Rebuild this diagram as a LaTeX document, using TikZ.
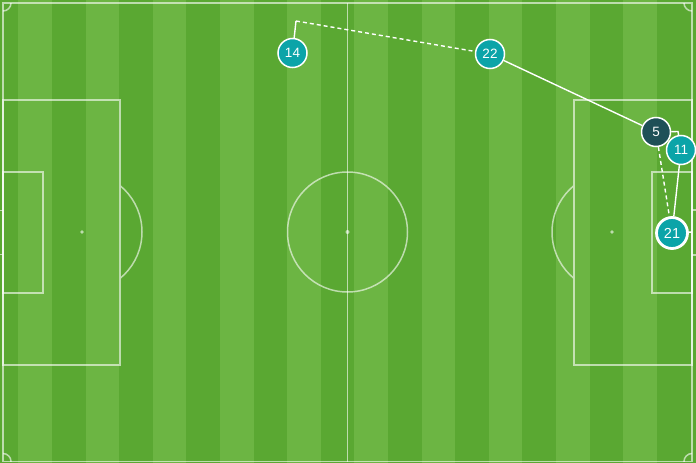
\documentclass[tikz,border=0pt]{standalone}
\usepackage{fontspec}
\setmainfont{Liberation Sans}
\pgfdeclarelayer{bg}
\pgfdeclarelayer{mid}
\pgfsetlayers{bg,mid,main}
\definecolor{grassdark}{HTML}{5AA832}
\definecolor{grasslight}{HTML}{6CB543}
\definecolor{teamteal}{HTML}{0BA4A8}
\definecolor{teamdark}{HTML}{1F5057}
\begin{document}
\begin{tikzpicture}[x=1pt,y=-1pt,
  pline/.style={draw=white, draw opacity=0.6, line width=1.5pt},
  pspot/.style={fill=white, fill opacity=0.6},
  player/.style={circle, draw=white, line width=1.5pt, fill=teamteal, text=white,
    minimum size=29pt, inner sep=0pt, font=\fontsize{13.5}{13.5}\selectfont},
  keyplayer/.style={player, fill=teamdark},
  bigplayer/.style={player, line width=2.8pt, minimum size=31pt, font=\fontsize{14.5}{14.5}\selectfont},
  pass/.style={draw=white, line width=1.4pt},
  dpass/.style={pass, dash pattern=on 4pt off 3pt}]
\useasboundingbox (0,0) rectangle (696,463);
\begin{pgfonlayer}{bg}
  \fill[grassdark] (0,0) rectangle (696,463);
  \foreach \k in {0,...,9} {
    \fill[grasslight] (18.3+67.2*\k,0) rectangle (51.9+67.2*\k,463);
  }
  % pitch outline and lines
  \draw[pline] (3,3) rectangle (692,461.5);
  \draw[pline] (347.5,3) -- (347.5,461.5);
  \draw[pline] (347.5,232) circle[radius=60pt];
  \fill[pspot] (347.5,232) circle[radius=2pt];
  % left
  \draw[pline] (3,100) rectangle (120,365);
  \draw[pline] (3,172) rectangle (43,293);
  \fill[pspot] (82,232) circle[radius=1.8pt];
  \begin{scope}
    \clip (120.8,0) rectangle (200,463);
    \draw[pline] (82,232) circle[radius=60pt];
  \end{scope}
  \draw[pline] (0,210.5) -- (3,210.5);
  \draw[pline] (0,254.5) -- (3,254.5);
  % right
  \draw[pline] (574,100) rectangle (692,365);
  \draw[pline] (652,172) rectangle (692,293);
  \fill[pspot] (612,232) circle[radius=1.8pt];
  \begin{scope}
    \clip (500,0) rectangle (573.2,463);
    \draw[pline] (612,232) circle[radius=60pt];
  \end{scope}
  \draw[pline] (692,210) -- (696,210);
  \draw[pline] (692,255) -- (696,255);
  % corners
  \begin{scope}
    \clip (3,3) rectangle (692,461.5);
    \draw[pline] (3,3) circle[radius=8pt];
    \draw[pline] (692,3) circle[radius=8pt];
    \draw[pline] (3,461.5) circle[radius=8pt];
    \draw[pline] (692,461.5) circle[radius=8pt];
  \end{scope}
\end{pgfonlayer}
% players
\node[player] (p14) at (292.5,53) {14};
\node[player] (p22) at (490,54) {22};
\node[keyplayer] (p5) at (656,132) {5};
\node[player] (p11) at (681,150) {11};
\node[bigplayer] (p21) at (672,233) {21};
\coordinate (c14) at (296,21);
\coordinate (c5) at (678,131.5);
\coordinate (goal) at (692,232);
\begin{pgfonlayer}{mid}
  \draw[pass] (p14) -- (c14);
  \draw[dpass] (c14) -- (p22);
  \draw[pass] (p22) -- (p5);
  \draw[pass] (p5) -- (c5) -- (p11);
  \draw[dpass] (p5) -- (p21);
  \draw[pass] (p11) -- (p21);
  \draw[pass] (p21) -- (goal);
\end{pgfonlayer}
\end{tikzpicture}
\end{document}
